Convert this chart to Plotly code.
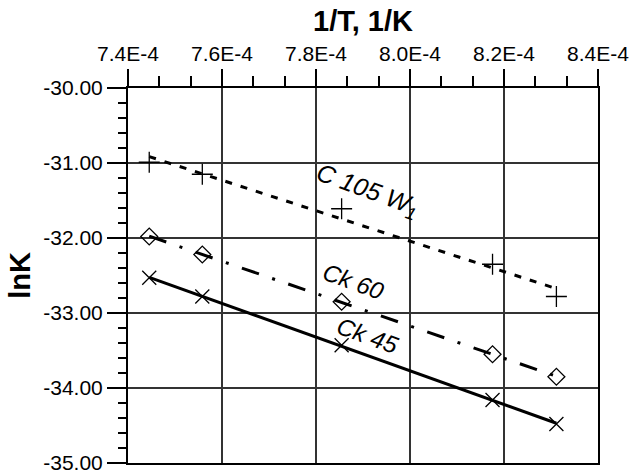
import numpy as np
import plotly.graph_objects as go

# ---- data ----
inv_T = [7.4452e-4, 7.5581e-4, 7.8545e-4, 8.1756e-4, 8.3115e-4]
lnK_C105W1 = [-30.99, -31.15, -31.61, -32.35, -32.78]
lnK_Ck60 = [-31.98, -32.22, -32.85, -33.55, -33.85]
lnK_Ck45 = [-32.53, -32.78, -33.43, -34.16, -34.48]

series_names = ["C 105 W<sub>1</sub>", "Ck 60", "Ck 45"]
label_x = [7.910e-4, 7.880e-4, 7.910e-4]
label_y = [-31.37, -32.58, -33.30]

x_tickvals = [7.4e-4, 7.6e-4, 7.8e-4, 8.0e-4, 8.2e-4, 8.4e-4]
x_ticktext = ["7.4E-4", "7.6E-4", "7.8E-4", "8.0E-4", "8.2E-4", "8.4E-4"]
y_tickvals = [-35, -34, -33, -32, -31, -30]
y_ticktext = ["-35.00", "-34.00", "-33.00", "-32.00", "-31.00", "-30.00"]

FONT = "Liberation Sans, Arial, sans-serif"

fig = go.Figure()

styles = [
    dict(symbol="cross-thin", size=15, dash="7px,9px"),
    dict(symbol="diamond-open", size=13, dash="18px,14px,3px,14px"),
    dict(symbol="x-thin", size=14, dash="solid"),
]
all_series = [lnK_C105W1, lnK_Ck60, lnK_Ck45]

x_arr = np.array(inv_T)
for ys, st in zip(all_series, styles):
    k, b = np.polyfit(x_arr, np.array(ys), 1)
    xl = np.array([x_arr.min(), x_arr.max()])
    fig.add_trace(go.Scatter(x=xl, y=k * xl + b, mode="lines",
                             line=dict(color="black", width=3, dash=st["dash"]),
                             showlegend=False, hoverinfo="skip"))
    fig.add_trace(go.Scatter(x=inv_T, y=ys, mode="markers",
                             marker=dict(symbol=st["symbol"], size=st["size"],
                                         color="black",
                                         line=dict(color="black", width=1.3)),
                             showlegend=False))

label_sizes = [25, 24, 24]
for name, lx, ly, fs in zip(series_names, label_x, label_y, label_sizes):
    fig.add_annotation(x=lx, y=ly, text="<i>" + name + "</i>", showarrow=False,
                       textangle=20, font=dict(family=FONT, size=fs, color="black"))

axis_common = dict(
    showline=True, linecolor="black", linewidth=2, mirror=True,
    showgrid=True, gridcolor="#333333", gridwidth=1.5,
    ticks="outside", tickcolor="black", tickwidth=1.5,
    tickfont=dict(family=FONT, size=21, color="black"),
    zeroline=False, automargin=False, ticklabeloverflow="allow",
)

fig.update_xaxes(
    **axis_common,
    side="top", range=[7.4e-4, 8.4e-4],
    tickvals=x_tickvals, ticktext=x_ticktext, ticklen=17,
    minor=dict(ticks="outside", ticklen=10, tickcolor="black", tickwidth=1.5,
               dtick=0.2e-4 / 3, tick0=7.4e-4, showgrid=False),
    title=dict(text="<b>1/T, 1/K</b>", font=dict(family=FONT, size=29, color="black"),
               standoff=1),
)
fig.update_yaxes(
    **axis_common,
    range=[-35, -30],
    tickvals=y_tickvals, ticktext=y_ticktext, ticklen=19,
    minor=dict(ticks="outside", ticklen=8, tickcolor="black", tickwidth=1.5,
               dtick=0.2, tick0=-35, showgrid=False),
    title=dict(text="<b>lnK</b>", font=dict(family=FONT, size=29, color="black"),
               standoff=4),
)

fig.update_layout(
    width=633, height=474,
    margin=dict(l=128, r=35, t=88, b=11),
    paper_bgcolor="white", plot_bgcolor="white",
    showlegend=False,
)

fig.write_html("out.html", config={"displayModeBar": False},
               post_script="document.body.style.margin='0';document.body.style.overflow='hidden';")
